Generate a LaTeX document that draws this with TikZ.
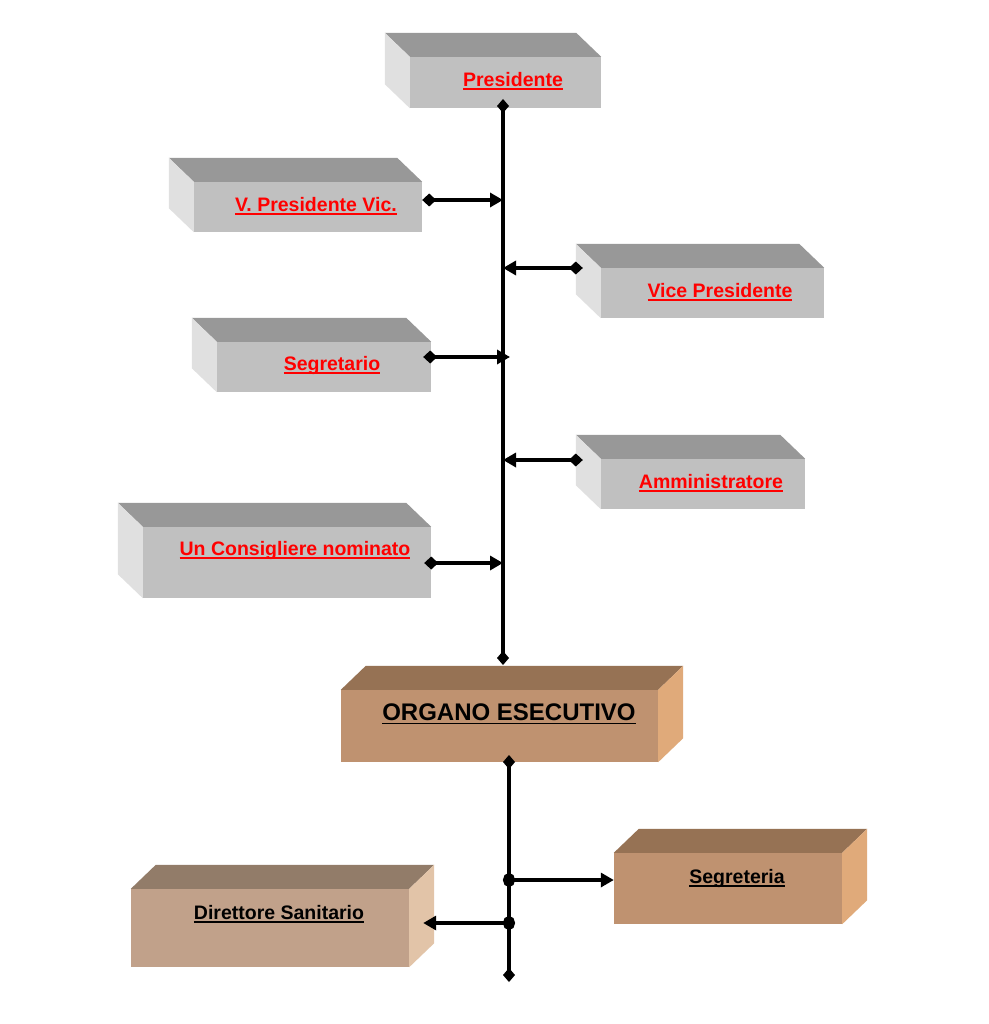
\documentclass[tikz,border=0pt]{standalone}
\usepackage{fontspec}
\setmainfont{Liberation Sans}
\usetikzlibrary{arrows.meta,calc}
\newsavebox\ulbox
\newcommand\myul[1]{\sbox\ulbox{#1}\rlap{\rule[-4pt]{\wd\ulbox}{1.8pt}}\usebox\ulbox}
\definecolor{gfront}{RGB}{192,192,192}
\definecolor{gtop}{RGB}{152,152,152}
\definecolor{gleft}{RGB}{224,224,224}
\definecolor{bfront}{RGB}{191,146,112}
\definecolor{btop}{RGB}{150,114,84}
\definecolor{bright}{RGB}{224,170,122}
\definecolor{dfront}{RGB}{193,161,138}
\definecolor{dtop}{RGB}{146,124,105}
\definecolor{dright}{RGB}{226,196,168}
\definecolor{lblred}{RGB}{255,0,0}
\newcommand\grayfaces[1]{%
  \fill[gtop] (#1.north west) -- ++(-25,-24) -- ($(#1.north east)+(-25,-24)$) -- (#1.north east) -- cycle;
  \fill[gleft] (#1.north west) -- ++(-25,-24) -- ($(#1.south west)+(-25,-24)$) -- (#1.south west) -- cycle;}
\newcommand\brownfaces[3]{%
  \fill[#2] (#1.north west) -- ++(25,-24) -- ($(#1.north east)+(25,-24)$) -- (#1.north east) -- cycle;
  \fill[#3] (#1.north east) -- ++(25,-24) -- ($(#1.south east)+(25,-24)$) -- (#1.south east) -- cycle;}
\begin{document}
\begin{tikzpicture}[x=1pt,y=-1pt,
  gbox/.style={fill=gfront,inner sep=0pt,draw=none},
  bbox/.style={fill=bfront,inner sep=0pt,draw=none},
  redlbl/.style={text=lblred,font=\bfseries\fontsize{19.5}{22}\selectfont,inner sep=0pt},
  blklbl/.style={text=black,font=\bfseries\fontsize{19.5}{22}\selectfont,inner sep=0pt},
  conn/.style={line width=4pt,{Diamond[length=14pt,width=13pt]}-{Triangle[length=13pt,width=14pt]}},
  trunk/.style={line width=4pt,{Diamond[length=14pt,width=12pt]}-{Diamond[length=14pt,width=12pt]}},
  dotconn/.style={line width=4pt,{Circle[length=12pt,width=14pt]}-{Triangle[length=13pt,width=14pt]}}]
\useasboundingbox (0,0) rectangle (988,1024);
\fill[white] (0,0) rectangle (988,1024);

% gray boxes
\node[gbox,minimum width=191pt,minimum height=51pt] (pres) at (505.5,82.5) {};
\node[gbox,minimum width=228pt,minimum height=50pt] (vpv) at (308,207) {};
\node[gbox,minimum width=223pt,minimum height=50pt] (vp) at (712.5,293) {};
\node[gbox,minimum width=214pt,minimum height=50pt] (segr) at (324,367) {};
\node[gbox,minimum width=204pt,minimum height=50pt] (amm) at (703,484) {};
\node[gbox,minimum width=288pt,minimum height=71pt] (cons) at (287,562.5) {};
\grayfaces{pres}
\grayfaces{vpv}
\grayfaces{vp}
\grayfaces{segr}
\grayfaces{amm}
\grayfaces{cons}

% brown boxes
\node[bbox,minimum width=317pt,minimum height=72pt] (org) at (499.5,726) {};
\node[bbox,minimum width=228pt,minimum height=71pt] (segre) at (728,888.5) {};
\node[bbox,fill=dfront,minimum width=278pt,minimum height=78pt] (dir) at (270,928) {};
\brownfaces{org}{btop}{bright}
\brownfaces{segre}{btop}{bright}
\brownfaces{dir}{dtop}{dright}

% labels
\node[redlbl] (presT) at (513,81) {\myul{Presidente}};
\node[redlbl] (vpvT) at (316,206) {\myul{V. Presidente Vic.}};
\node[redlbl] (vpT) at (720,292) {\myul{Vice Presidente}};
\node[redlbl] (segrT) at (332,365) {\myul{Segretario}};
\node[redlbl] (ammT) at (711,483) {\myul{Amministratore}};
\node[redlbl] (consT) at (295,550) {\myul{Un Consigliere nominato}};
\node[blklbl,font=\bfseries\fontsize{24}{28}\selectfont] (orgT) at (509,714) {\myul{ORGANO ESECUTIVO}};
\node[blklbl] (segreT) at (737,878) {\myul{Segreteria}};
\node[blklbl] (dirT) at (279,914) {\myul{Direttore Sanitario}};

% trunk coordinates
\coordinate (t0) at (503,99);
\coordinate (t1) at (503,665);
\coordinate (j1) at (503,200);
\coordinate (j2) at (503,268);
\coordinate (j3) at (510,357);
\coordinate (j4) at (503,460);
\coordinate (j5) at (503,563);
\coordinate (b0) at (509,755);
\coordinate (b1) at (509,982);
\coordinate (k1) at (503,880);
\coordinate (k2) at (515,923);

\draw[trunk] (t0) -- (t1);
\draw[conn] ($(vpv.east)+(0,-7)$) -- (j1);
\draw[conn] ($(vp.west)+(-18,-25)$) -- (j2);
\draw[conn] ($(segr.east)+(-8,-10)$) -- (j3);
\draw[conn] ($(amm.west)+(-18,-24)$) -- (j4);
\draw[conn] ($(cons.east)+(-7,0.5)$) -- (j5);
\draw[trunk] (b0) -- (b1);
\draw[dotconn] (k1) -- ($(segre.west)+(0,-8.5)$);
\draw[dotconn] (k2) -- ($(dir.east)+(14,-5)$);
\end{tikzpicture}
\end{document}
